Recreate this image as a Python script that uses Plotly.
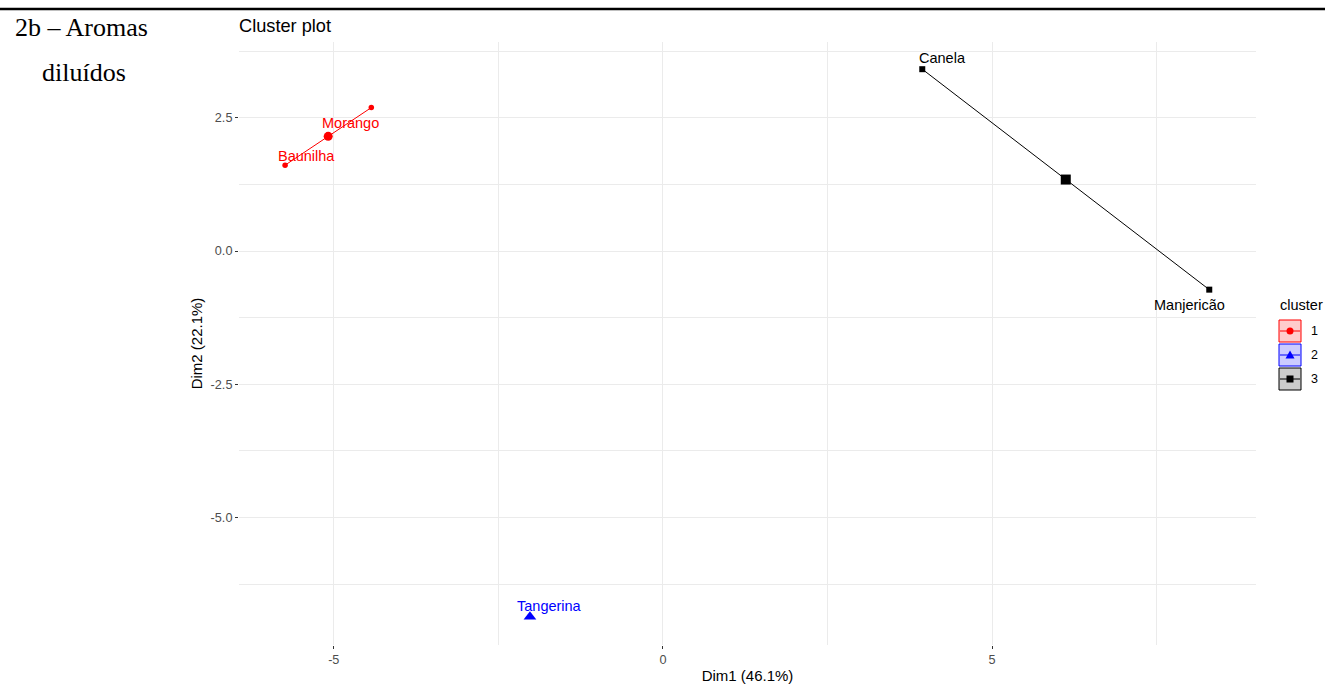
import plotly.graph_objects as go

# ---------------- data ----------------
names = ["Morango", "Baunilha", "Tangerina", "Canela", "Manjericão"]
dim1 = [-4.43, -5.74, -2.02, 3.94, 8.30]
dim2 = [2.69, 1.61, -6.86, 3.41, -0.725]
cluster = [1, 1, 2, 3, 3]

cluster_ids = [1, 2, 3]
centroid_dim1 = [-5.085, -2.02, 6.12]
centroid_dim2 = [2.15, -6.86, 1.34]

x_ticks = [-5, 0, 5]
x_tick_labels = ["-5", "0", "5"]
y_ticks = [-5.0, -2.5, 0.0, 2.5]
y_tick_labels = ["-5.0", "-2.5", "0.0", "2.5"]

# ---------------- styling ----------------
W, H = 1325, 684
ML, MR, MT, MB = 239, 69, 42, 39
PW, PH = W - ML - MR, H - MT - MB

colors = {1: "#FF0000", 2: "#0000FF", 3: "#000000"}
fills = {1: "rgba(255,0,0,0.2)", 2: "rgba(0,0,255,0.2)", 3: "rgba(0,0,0,0.2)"}
symbols = {1: "circle", 2: "triangle-up", 3: "square"}
point_size = {1: 5.5, 2: 6, 3: 6}
centroid_size = {1: 9, 2: 11, 3: 10}
# label pixel offsets (dx right, dy up)
label_offset = {
    "Morango": (-21, -15),
    "Baunilha": (21, 9),
    "Tangerina": (20, 11),
    "Canela": (20, 11),
    "Manjericão": (-20, -15),
}
FONT = "Liberation Sans, Arial, sans-serif"


def px_to_paper_x(px):
    return (px - ML) / PW


def px_to_paper_y(py):
    return (H - MB - py) / PH


fig = go.Figure()

for k in cluster_ids:
    idx = [i for i, c in enumerate(cluster) if c == k]
    xs = [dim1[i] for i in idx]
    ys = [dim2[i] for i in idx]
    fig.add_trace(go.Scatter(
        x=xs, y=ys, mode="lines+markers",
        line=dict(color=colors[k], width=1),
        marker=dict(symbol=symbols[k], size=point_size[k], color=colors[k], line=dict(width=0)),
        name=str(k), showlegend=False,
    ))
    j = cluster_ids.index(k)
    fig.add_trace(go.Scatter(
        x=[centroid_dim1[j]], y=[centroid_dim2[j]], mode="markers",
        marker=dict(symbol=symbols[k], size=centroid_size[k], color=colors[k], line=dict(width=0)),
        name=str(k), showlegend=False, hoverinfo="skip",
    ))

annotations = []
for n, x, y, c in zip(names, dim1, dim2, cluster):
    dx, dy = label_offset[n]
    annotations.append(dict(
        x=x, y=y, xref="x", yref="y", text=n, showarrow=False,
        xshift=dx, yshift=dy, xanchor="center", yanchor="middle",
        font=dict(family=FONT, size=14.5, color=colors[c]),
    ))

# side caption
annotations.append(dict(
    x=px_to_paper_x(13), y=px_to_paper_y(27), xref="paper", yref="paper",
    text="2b – Aromas", showarrow=False, xanchor="left", yanchor="middle",
    font=dict(family="Liberation Serif, Times New Roman, serif", size=26, color="#000000"),
))
annotations.append(dict(
    x=px_to_paper_x(40), y=px_to_paper_y(72), xref="paper", yref="paper",
    text="diluídos", showarrow=False, xanchor="left", yanchor="middle",
    font=dict(family="Liberation Serif, Times New Roman, serif", size=26, color="#000000"),
))

shapes = [dict(
    type="line", xref="paper", yref="paper",
    x0=px_to_paper_x(0), x1=px_to_paper_x(W), y0=px_to_paper_y(9), y1=px_to_paper_y(9),
    line=dict(color="#000000", width=2.5),
)]

# ---------------- manual ggplot-style legend ----------------
LEG_X0, LEG_X1 = 1279, 1301
LEG_TOP, KEY_H = 320, 24
annotations.append(dict(
    x=px_to_paper_x(1278), y=px_to_paper_y(305), xref="paper", yref="paper",
    text="cluster", showarrow=False, xanchor="left", yanchor="middle",
    font=dict(family=FONT, size=14.5, color="#000000"),
))
for i, k in enumerate(cluster_ids):
    y0 = LEG_TOP + i * KEY_H
    y1 = y0 + KEY_H - 2
    yc = (y0 + y1) / 2
    xc = (LEG_X0 + LEG_X1) / 2
    shapes.append(dict(type="rect", xref="paper", yref="paper",
                       x0=px_to_paper_x(LEG_X0), x1=px_to_paper_x(LEG_X1),
                       y0=px_to_paper_y(y0), y1=px_to_paper_y(y1),
                       fillcolor=fills[k], line=dict(color=colors[k], width=1)))
    shapes.append(dict(type="line", xref="paper", yref="paper",
                       x0=px_to_paper_x(LEG_X0 + 1), x1=px_to_paper_x(LEG_X1 - 1),
                       y0=px_to_paper_y(yc), y1=px_to_paper_y(yc),
                       line=dict(color=colors[k], width=1)))
    if symbols[k] == "circle":
        r = 3.5
        shapes.append(dict(type="circle", xref="paper", yref="paper",
                           x0=px_to_paper_x(xc - r), x1=px_to_paper_x(xc + r),
                           y0=px_to_paper_y(yc - r), y1=px_to_paper_y(yc + r),
                           fillcolor=colors[k], line=dict(color=colors[k], width=0)))
    elif symbols[k] == "square":
        r = 3.5
        shapes.append(dict(type="rect", xref="paper", yref="paper",
                           x0=px_to_paper_x(xc - r), x1=px_to_paper_x(xc + r),
                           y0=px_to_paper_y(yc - r), y1=px_to_paper_y(yc + r),
                           fillcolor=colors[k], line=dict(color=colors[k], width=0)))
    else:
        r = 4.5
        path = "M {} {} L {} {} L {} {} Z".format(
            px_to_paper_x(xc - r), px_to_paper_y(yc + 3.5),
            px_to_paper_x(xc + r), px_to_paper_y(yc + 3.5),
            px_to_paper_x(xc), px_to_paper_y(yc - 4.5))
        shapes.append(dict(type="path", xref="paper", yref="paper", path=path,
                           fillcolor=colors[k], line=dict(color=colors[k], width=0)))
    annotations.append(dict(
        x=px_to_paper_x(1309), y=px_to_paper_y(yc), xref="paper", yref="paper",
        text=str(k), showarrow=False, xanchor="left", yanchor="middle",
        font=dict(family=FONT, size=12.5, color="#000000"),
    ))

axis_common = dict(
    showgrid=True, gridcolor="#EBEBEB", gridwidth=1,
    zeroline=False, showline=False,
    ticks="outside", ticklen=3, tickwidth=1, tickcolor="#333333",
    tickfont=dict(family=FONT, size=12.7, color="#4D4D4D"),
    title_font=dict(family=FONT, size=15, color="#000000"),
)

fig.update_layout(
    width=W, height=H,
    margin=dict(l=ML, r=MR, t=MT, b=MB, autoexpand=False),
    paper_bgcolor="white", plot_bgcolor="white",
    title=dict(text="Cluster plot", x=px_to_paper_x(239), xref="paper", xanchor="left",
               y=1 - 26 / H, yref="container", yanchor="middle",
               font=dict(family=FONT, size=18.2, color="#000000")),
    xaxis=dict(range=[-6.44, 9.01], tickvals=x_ticks, ticktext=x_tick_labels,
               minor=dict(dtick=2.5, tick0=0, showgrid=True, gridcolor="#EBEBEB", gridwidth=1, ticks=""),
               title=dict(text="Dim1 (46.1%)", standoff=4), automargin=False, **axis_common),
    yaxis=dict(range=[-7.39, 3.92], tickvals=y_ticks, ticktext=y_tick_labels,
               minor=dict(dtick=1.25, tick0=0, showgrid=True, gridcolor="#EBEBEB", gridwidth=1, ticks=""),
               title=dict(text="Dim2 (22.1%)", standoff=4), automargin=False, **axis_common),
    annotations=annotations,
    shapes=shapes,
    showlegend=False,
)

fig.write_html("out.html", config={"displayModeBar": False},
               post_script="document.body.style.margin='0px';document.body.style.overflow='hidden';")
